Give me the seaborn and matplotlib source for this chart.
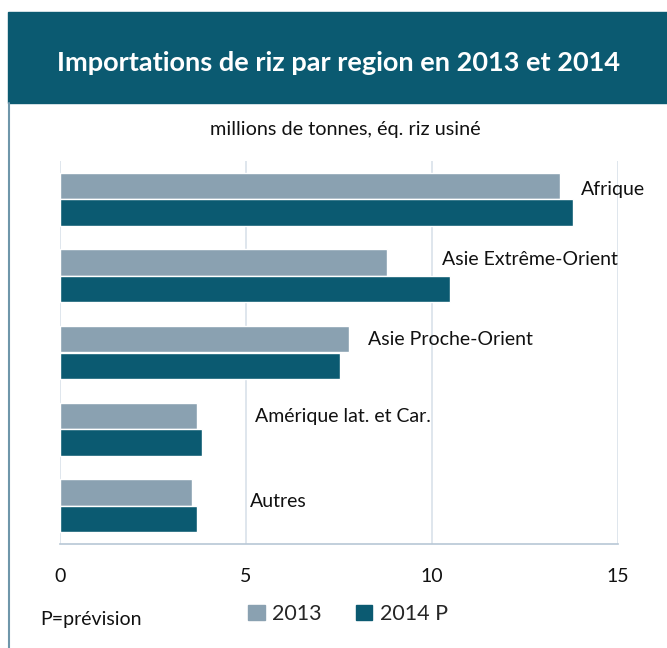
import matplotlib.pyplot as plt
import matplotlib.patches as mpatches
import seaborn as sns
import pandas as pd

# Data (millions de tonnes, éq. riz usiné)
regions = ["Afrique", "Asie Extrême-Orient", "Asie Proche-Orient",
           "Amérique lat. et Car.", "Autres"]
imports_2013 = [13.45, 8.79, 7.77, 3.68, 3.56]
imports_2014 = [13.78, 10.48, 7.52, 3.83, 3.68]
series = ["2013", "2014 P"]
x_ticks = [0, 5, 10, 15]

# label placement (data x, offset in category units)
label_x = [14.0, 10.27, 8.28, 5.24, 5.10]
label_dy = [-0.13, -0.22, -0.17, -0.16, -0.05]

TEAL = "#0b5a71"
GREY = "#8aa1b1"
GRID = "#d9e1ea"

sns.set_theme(style="white")
plt.rcParams['font.family'] = ['Lato', 'DejaVu Sans']

df = pd.DataFrame({
    "region": regions * 2,
    "valeur": imports_2013 + imports_2014,
    "annee": [series[0]] * len(regions) + [series[1]] * len(regions),
})

fig = plt.figure(figsize=(6.67, 6.48), dpi=100)

# title banner
fig.patches.append(mpatches.Rectangle((8 / 667, 1 - 103 / 648), 1, 91 / 648,
                                      transform=fig.transFigure, color=TEAL, zorder=0))
fig.lines.append(plt.Line2D([8.5 / 667, 8.5 / 667], [0, 1 - 103 / 648],
                            transform=fig.transFigure, color="#6f96aa", lw=1.5))
fig.text(0.508, 1 - 63 / 648, "Importations de riz par region en 2013 et 2014",
         color="white", fontsize=19.5, fontweight="bold", ha="center", va="center")
fig.text(0.518, 1 - 130 / 648, "millions de tonnes, éq. riz usiné",
         fontsize=14.3, ha="center", va="center", color="#111111")

ax = fig.add_axes([60 / 667, 1 - 544 / 648, 558 / 667, 383 / 648])
sns.barplot(data=df, y="region", x="valeur", hue="annee", orient="h",
            palette=[GREY, TEAL], width=0.69, gap=0, ax=ax, legend=False,
            saturation=1)

for i, name in enumerate(regions):
    ax.text(label_x[i], i + label_dy[i], name, fontsize=14, va="center",
            ha="left", color="#111111")

ax.set_xlim(0, 15)
ax.set_ylim(len(regions) - 0.5, -0.5)
ax.set_xticks(x_ticks)
ax.set_xticklabels([str(t) for t in x_ticks], fontsize=14)
ax.set_yticks([])
ax.set_xlabel("")
ax.set_ylabel("")
ax.grid(axis="x", color=GRID, lw=1.2)
ax.set_axisbelow(True)
for s in ["top", "right", "left"]:
    ax.spines[s].set_visible(False)
ax.spines["bottom"].set_color("#b8c7d5")
ax.spines["bottom"].set_linewidth(1.2)
ax.tick_params(axis="x", length=5, width=1.2, color="#b8c7d5", pad=12, labelcolor="#111111")

handles = [mpatches.Patch(color=GREY, label=series[0]),
           mpatches.Patch(color=TEAL, label=series[1])]
fig.legend(handles=handles, loc="center", bbox_to_anchor=(0.522, 1 - 614 / 648),
           ncol=2, frameon=False, fontsize=15.5, handlelength=0.75, handleheight=0.75,
           handletextpad=0.35, columnspacing=1.6)
fig.text(40 / 667, 1 - 620 / 648, "P=prévision", fontsize=14, va="center", color="#111111")

fig.savefig("out.png", dpi=100)
